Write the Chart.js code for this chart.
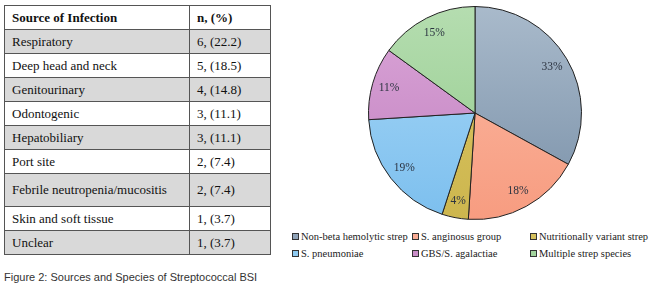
<!DOCTYPE html>
<html>
<head>
<meta charset="utf-8">
<script src="https://cdn.jsdelivr.net/npm/chart.js@4.4.1/dist/chart.umd.min.js"></script>
<style>
  html, body { margin: 0; padding: 0; background: #fff; }
  body { width: 650px; height: 297px; position: relative; overflow: hidden; }
  #tbl { position: absolute; left: 4px; top: 5px; border-collapse: collapse;
         font-family: "Liberation Serif", "Times New Roman", serif; font-size: 13px; color: #111; }
  #tbl td, #tbl th { border: 1px solid #555; padding: 0 0 0 7px; height: 23px; text-align: left; vertical-align: middle; }
  #tbl th { font-weight: bold; background: #fff; }
  #tbl td.c1, #tbl th.c1 { width: 177px; }
  #tbl td.c2, #tbl th.c2 { width: 73px; }
  #tbl tr.gray td { background: #d9d9d9; }
  #tbl tr.tall td { height: 32px; }
  #pieWrap { position: absolute; left: 368px; top: 6px; width: 214px; height: 214px; }
  #legend { position: absolute; left: 0; top: 0; font-family: "Liberation Serif", "Times New Roman", serif;
            font-size: 10.5px; color: #222; }
  .li { position: absolute; white-space: nowrap; line-height: 12px; }
  .li .box { display: inline-block; width: 5px; height: 5px; border: 1px solid #333; margin-right: 2px; vertical-align: 0px; }
  #caption { position: absolute; left: 4px; top: 271px; font-family: "Liberation Sans", Arial, sans-serif;
             font-size: 11px; color: #333; white-space: nowrap; }
</style>
</head>
<body>
<table id="tbl"></table>
<div id="pieWrap"><canvas id="pie"></canvas></div>
<div id="legend"></div>
<div id="caption">Figure 2: Sources and Species of Streptococcal BSI</div>
<script>
// ---- Table data ----
const tableHeader = ["Source of Infection", "n, (%)"];
const sources = ["Respiratory", "Deep head and neck", "Genitourinary", "Odontogenic", "Hepatobiliary",
                 "Port site", "Febrile neutropenia/mucositis", "Skin and soft tissue", "Unclear"];
const sourceCounts = [6, 5, 4, 3, 3, 2, 2, 1, 1];
const sourcePercents = ["22.2", "18.5", "14.8", "11.1", "11.1", "7.4", "7.4", "3.7", "3.7"];

// ---- Pie data ----
const species = ["Non-beta hemolytic strep", "S. anginosus group", "Nutritionally variant strep",
                 "S. pneumoniae", "GBS/S. agalactiae", "Multiple strep species"];
const speciesPercents = [33, 18, 4, 19, 11, 15];
const colorsTop = ["#a9bacb", "#fbbaa4", "#dbc766", "#a9d8f7", "#dba6d8", "#b5ddb0"];
const colorsBottom = ["#7990a8", "#f79c80", "#cdb64e", "#7cbfee", "#c07fbf", "#92cb8b"];
const colorsLegend = ["#8fa3b8", "#f9ab93", "#d4c05c", "#8ecbf2", "#c98dc7", "#a3d49d"];

// ---- Build table ----
const tbl = document.getElementById('tbl');
let html = '<tr><th class="c1">' + tableHeader[0] + '</th><th class="c2">' + tableHeader[1] + '</th></tr>';
sources.forEach((s, i) => {
  const cls = [];
  if (i % 2 === 0) cls.push('gray');
  if (s.length > 24) cls.push('tall');
  html += '<tr class="' + cls.join(' ') + '"><td class="c1">' + s + '</td><td class="c2">' +
          sourceCounts[i] + ', (' + sourcePercents[i] + ')</td></tr>';
});
tbl.innerHTML = html;

// ---- Legend (HTML) ----
const legend = document.getElementById('legend');
const colX = [292, 412, 530];
const rowY = [231, 248];
species.forEach((name, i) => {
  const d = document.createElement('div');
  d.className = 'li';
  d.style.left = colX[i % 3] + 'px';
  d.style.top = rowY[Math.floor(i / 3)] + 'px';
  d.innerHTML = '<span class="box" style="background:' + colorsLegend[i] + '"></span>' + name;
  legend.appendChild(d);
});

// ---- Pie ----
function sliceFill(ctx) {
  const chart = ctx.chart;
  const area = chart.chartArea;
  const i = ctx.dataIndex;
  if (!area) return colorsLegend[i];
  const g = chart.ctx.createLinearGradient(0, area.top, 0, area.bottom);
  g.addColorStop(0, colorsTop[i]);
  g.addColorStop(1, colorsBottom[i]);
  return g;
}

const labelPlugin = {
  id: 'sliceLabels',
  afterDatasetsDraw(chart) {
    const ctx = chart.ctx;
    const meta = chart.getDatasetMeta(0);
    ctx.save();
    ctx.font = '11.5px "Liberation Serif", "Times New Roman", serif';
    ctx.fillStyle = '#2b3340';
    ctx.textAlign = 'center';
    ctx.textBaseline = 'middle';
    meta.data.forEach((arc, i) => {
      const p = arc.getProps(['x', 'y', 'startAngle', 'endAngle', 'outerRadius'], true);
      const mid = (p.startAngle + p.endAngle) / 2;
      const r = p.outerRadius * 0.84;
      ctx.fillText(speciesPercents[i] + '%', p.x + Math.cos(mid) * r, p.y + Math.sin(mid) * r);
    });
    ctx.restore();
  }
};

new Chart(document.getElementById('pie'), {
  type: 'pie',
  data: {
    labels: species,
    datasets: [{
      data: speciesPercents,
      backgroundColor: sliceFill,
      borderColor: '#222',
      borderWidth: 1
    }]
  },
  options: {
    responsive: true,
    maintainAspectRatio: false,
    animation: false,
    layout: { padding: 0 },
    plugins: { legend: { display: false }, tooltip: { enabled: false } }
  },
  plugins: [labelPlugin]
});
</script>
</body>
</html>
